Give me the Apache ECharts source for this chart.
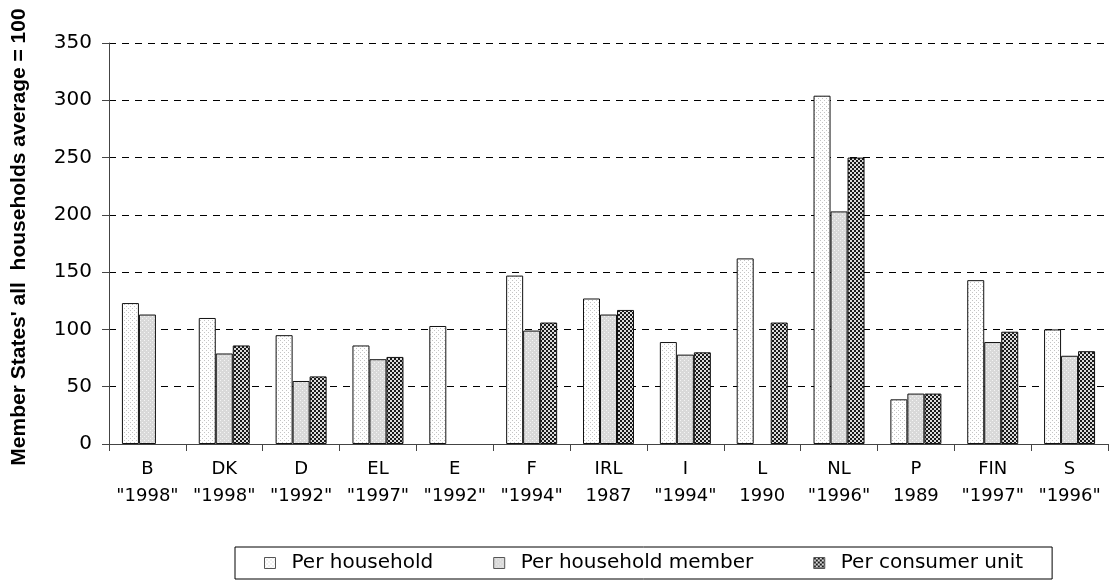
<!DOCTYPE html>
<html>
<head>
<meta charset="utf-8">
<script src="https://cdn.jsdelivr.net/npm/echarts@6/dist/echarts.min.js"></script>
<style>
  html, body { margin: 0; padding: 0; background: #fff; }
  #chart { width: 1109px; height: 584px; }
</style>
</head>
<body>
<div id="chart"></div>
<script>
// Country codes and survey years shown under each group
const countries = ['B', 'DK', 'D', 'EL', 'E', 'F', 'IRL', 'I', 'L', 'NL', 'P', 'FIN', 'S'];
const surveyYears = ['"1998"', '"1998"', '"1992"', '"1997"', '"1992"', '"1994"', '1987', '"1994"', '1990', '"1996"', '1989', '"1997"', '"1996"'];

// Index values (Member States' all households average = 100)
const perHousehold = [123, 110, 95, 86, 103, 147, 127, 89, 162, 304, 39, 143, 100];
const perHouseholdMember = [113, 79, 55, 74, null, 99, 113, 78, null, 203, 44, 89, 77];
const perConsumerUnit = [null, 86, 59, 76, null, 106, 117, 80, 106, 250, 44, 98, 81];

const seriesNames = ['Per household', 'Per household member', 'Per consumer unit'];
const yTicks = { min: 0, max: 350, step: 50 };
const yTitle = "Member States' all  households average = 100";

// Small repeating fill tiles for the bar patterns
function makeTile(size, base, dotColor, dots) {
  const c = document.createElement('canvas');
  c.width = size; c.height = size;
  const ctx = c.getContext('2d');
  ctx.fillStyle = base;
  ctx.fillRect(0, 0, size, size);
  ctx.fillStyle = dotColor;
  dots.forEach(([x, y, w, h]) => ctx.fillRect(x, y, w || 1, h || 1));
  return { image: c, repeat: 'repeat' };
}

const dottedWhite = makeTile(4, '#ffffff', '#c4c4c4', [[0, 0], [2, 2]]);
const dottedGrey = makeTile(4, '#d9d9d9', '#f4f4f4', [[0, 0], [2, 2]]);
const checker = makeTile(4, '#dcdcdc', '#1a1a1a', [[0, 0, 2, 2], [2, 2, 2, 2]]);

const fills = [dottedWhite, dottedGrey, checker];
const values = [perHousehold, perHouseholdMember, perConsumerUnit];

const font = 'DejaVu Sans';

const chart = echarts.init(document.getElementById('chart'), null, { renderer: 'canvas' });

chart.setOption({
  animation: false,
  backgroundColor: '#ffffff',
  textStyle: { fontFamily: font, color: '#000' },
  grid: { left: 109, right: 1, top: 43, bottom: 140, containLabel: false },
  graphic: [{
    type: 'text',
    x: 19,
    y: 237,
    rotation: Math.PI / 2,
    style: {
      text: yTitle,
      fontFamily: 'Liberation Sans',
      fontWeight: 'bold',
      fontSize: 21,
      fill: '#000',
      align: 'center',
      verticalAlign: 'middle'
    }
  }],
  legend: {
    left: 235,
    top: 547,
    data: seriesNames,
    orient: 'horizontal',
    icon: 'rect',
    itemWidth: 11,
    itemHeight: 11,
    itemGap: 60,
    padding: [6, 29, 6, 29],
    borderColor: '#000',
    borderWidth: 1,
    textStyle: { fontFamily: font, fontSize: 20, color: '#000', padding: [0, 0, 0, 11] },
    itemStyle: { borderColor: '#555', borderWidth: 1 }
  },
  xAxis: {
    type: 'category',
    data: countries,
    axisLine: { lineStyle: { color: '#444', width: 1 } },
    axisTick: { show: true, length: 7, alignWithLabel: false, lineStyle: { color: '#444' } },
    axisLabel: {
      interval: 0,
      margin: 12,
      fontFamily: font,
      fontSize: 18,
      color: '#000',
      lineHeight: 27,
      formatter: (v, i) => v + '\n' + surveyYears[i]
    }
  },
  yAxis: {
    type: 'value',
    min: yTicks.min,
    max: yTicks.max,
    interval: yTicks.step,
    axisLine: { show: true, lineStyle: { color: '#444', width: 1 } },
    axisTick: { show: true, length: 7, lineStyle: { color: '#444' } },
    axisLabel: { fontFamily: font, fontSize: 20, color: '#000', margin: 17 },
    splitLine: { show: true, lineStyle: { color: '#000', type: [7, 6], width: 1 } }
  },
  series: seriesNames.map((name, k) => ({
    name,
    type: 'bar',
    data: values[k],
    barWidth: 17,
    barGap: '0%',
    itemStyle: { color: fills[k], borderColor: '#111', borderWidth: 1 }
  }))
});
</script>
</body>
</html>
